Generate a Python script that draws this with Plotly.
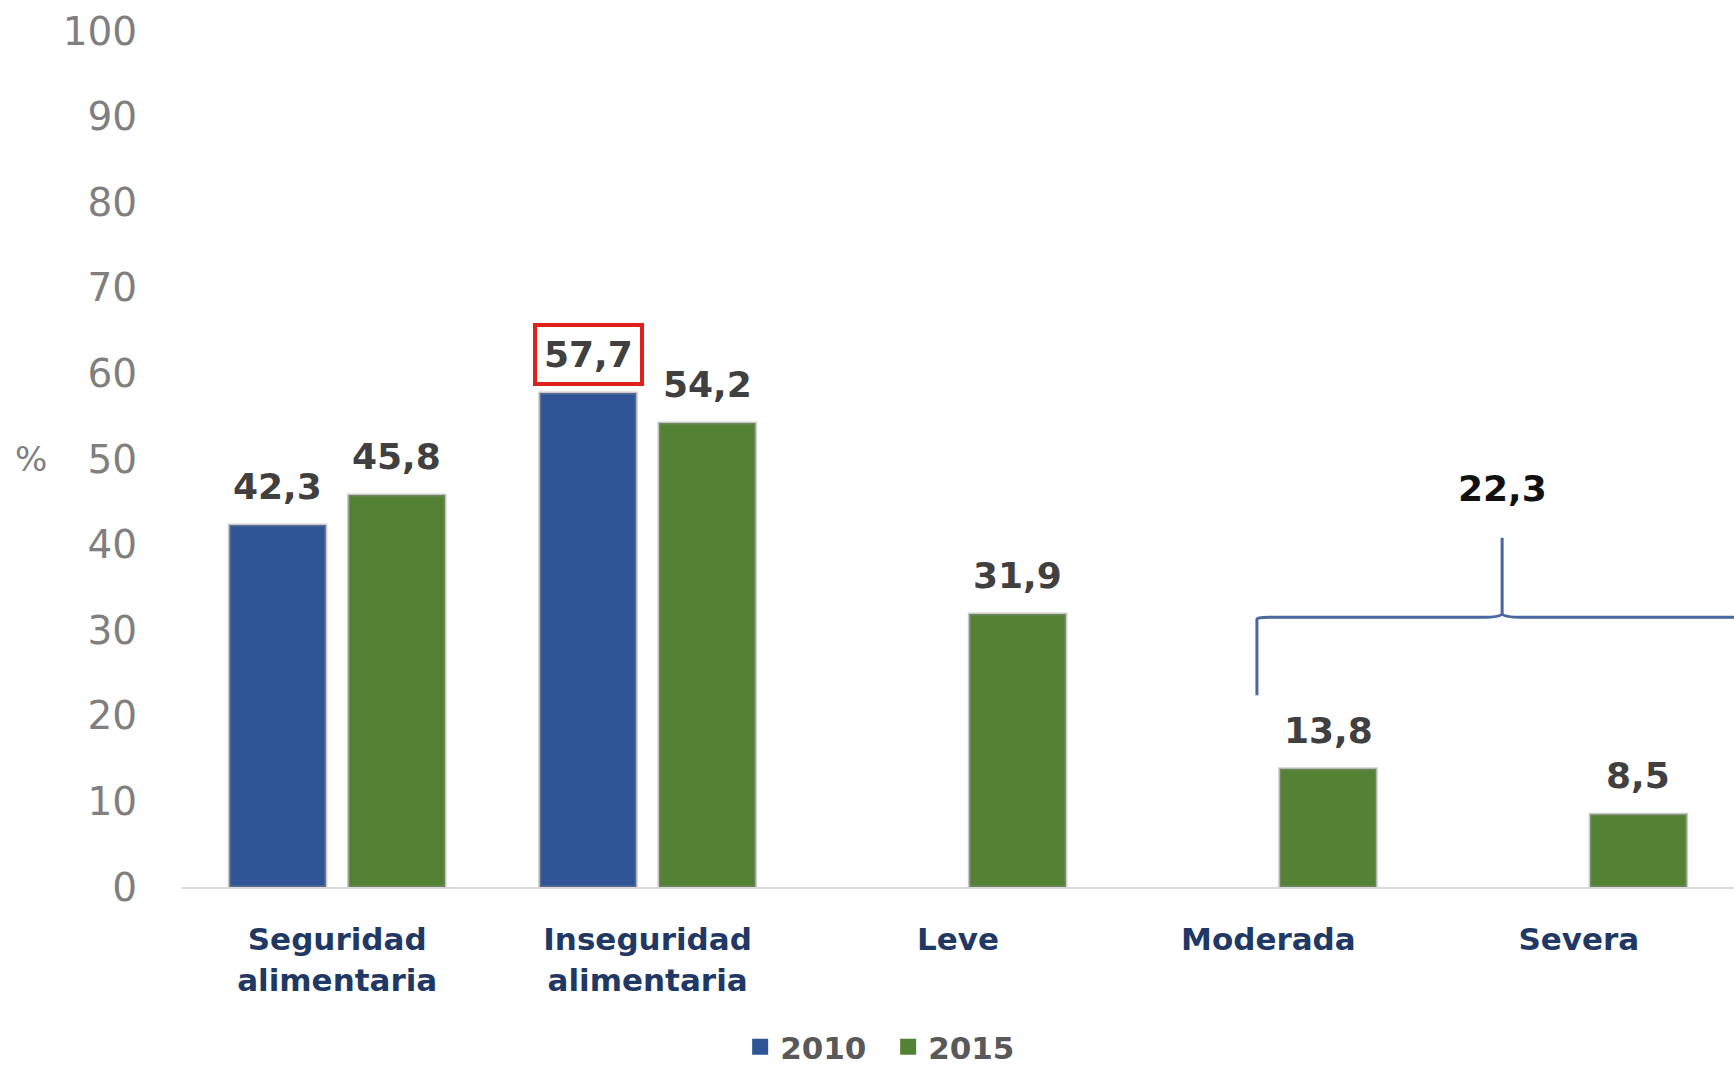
import plotly.graph_objects as go

# Food security levels, 2010 vs 2015 (%)
categories = ["Seguridad<br>alimentaria", "Inseguridad<br>alimentaria", "Leve", "Moderada", "Severa"]
values_2010 = [42.3, 57.7, None, None, None]
values_2015 = [45.8, 54.2, 31.9, 13.8, 8.5]
series_names = ["2010", "2015"]
y_ticks = [0, 10, 20, 30, 40, 50, 60, 70, 80, 90, 100]
highlight = ("2010", 1)          # value framed in red
brace_members = [3, 4]           # Moderada + Severa
brace_total = 22.3

BLUE = "#2F5597"
GREEN = "#548235"
FONT = "DejaVu Sans"
BARGAP = 0.232
GROUPGAP = 0.19

x_pos = list(range(len(categories)))
slot = (1 - BARGAP) / 2

def fmt(v):
    return f"{v:.1f}".replace(".", ",")

fig = go.Figure()
for name, vals, color in [(series_names[0], values_2010, BLUE), (series_names[1], values_2015, GREEN)]:
    fig.add_trace(go.Bar(
        x=x_pos, y=vals, name=name, marker_color=color,
        marker_line=dict(color="rgba(140,140,140,0.45)", width=3),
        showlegend=False, hoverinfo="skip",
    ))
    # legend swatch
    fig.add_trace(go.Scatter(
        x=[None], y=[None], mode="markers", name=name,
        marker=dict(symbol="square", size=16, color=color),
    ))

# value labels above bars
annotations = []
for s_idx, (name, vals) in enumerate([(series_names[0], values_2010), (series_names[1], values_2015)]):
    offset = (-0.5 + s_idx) * slot
    for i, v in enumerate(vals):
        if v is None:
            continue
        boxed = (name, i) == highlight
        annotations.append(dict(
            x=i + offset, y=v, xref="x", yref="y", text=fmt(v), showarrow=False,
            yanchor="bottom", yshift=7,
            font=dict(family=FONT, size=36, color="#404040", weight="bold"),
            bordercolor="#E0201B" if boxed else "rgba(0,0,0,0)",
            borderwidth=4, borderpad=7,
        ))

# brace grouping Moderada and Severa (right end runs past the plot edge)
bx0 = brace_members[0] - 0.037
bxp = bx0 + 0.79
bx1 = bxp + 0.79
y_end, y_mid, y_top = 22.4, 31.5, 40.8
rx, ry = 0.04, 0.2
prx, pry = 0.07, 0.45
brace_path = (
    f"M{bx0},{y_end} L{bx0},{y_mid - ry} Q{bx0},{y_mid} {bx0 + rx},{y_mid} "
    f"L{bxp - prx},{y_mid} Q{bxp},{y_mid} {bxp},{y_mid + pry} L{bxp},{y_top} "
    f"M{bxp},{y_mid + pry} Q{bxp},{y_mid} {bxp + prx},{y_mid} "
    f"L{bx1 - rx},{y_mid} Q{bx1},{y_mid} {bx1},{y_mid - ry} L{bx1},{y_end}"
)
fig.add_shape(type="path", path=brace_path, xref="x", yref="y",
              line=dict(color="#4A679E", width=3))

annotations.append(dict(
    x=bxp, y=46.6, xref="x", yref="y", text=fmt(brace_total), showarrow=False,
    font=dict(family=FONT, size=36, color="#111111", weight="bold"),
))

annotations.append(dict(
    x=-0.097, y=50, xref="paper", yref="y", xanchor="center", text="%", showarrow=False,
    font=dict(family=FONT, size=34, color="#7F7F7F"),
))

fig.update_layout(
    width=1734, height=1068,
    margin=dict(l=182, r=0, t=31, b=181, autoexpand=False),
    paper_bgcolor="white", plot_bgcolor="white",
    barmode="group", bargap=BARGAP, bargroupgap=GROUPGAP,
    annotations=annotations,
    legend=dict(
        orientation="h", x=0.455, xanchor="center", y=-0.187, yanchor="middle",
        font=dict(family=FONT, size=31, color="#595959", weight="bold"),
        itemsizing="trace", entrywidth=103,
    ),
    xaxis=dict(
        range=[-0.5, 4.5], tickvals=x_pos, ticktext=categories,
        showgrid=False, zeroline=False, showline=True, linecolor="#D9D9D9", linewidth=2,
        ticks="outside", ticklen=24, tickcolor="rgba(0,0,0,0)",
        tickfont=dict(family=FONT, size=31, color="#1F3864", weight="bold"),
    ),
    yaxis=dict(
        range=[0, 100], tickvals=y_ticks, showgrid=False, zeroline=False, showline=False,
        ticks="outside", ticklen=36, tickcolor="rgba(0,0,0,0)",
        tickfont=dict(family=FONT, size=39, color="#7F7F7F"),
    ),
)

fig.write_html("out.html")
